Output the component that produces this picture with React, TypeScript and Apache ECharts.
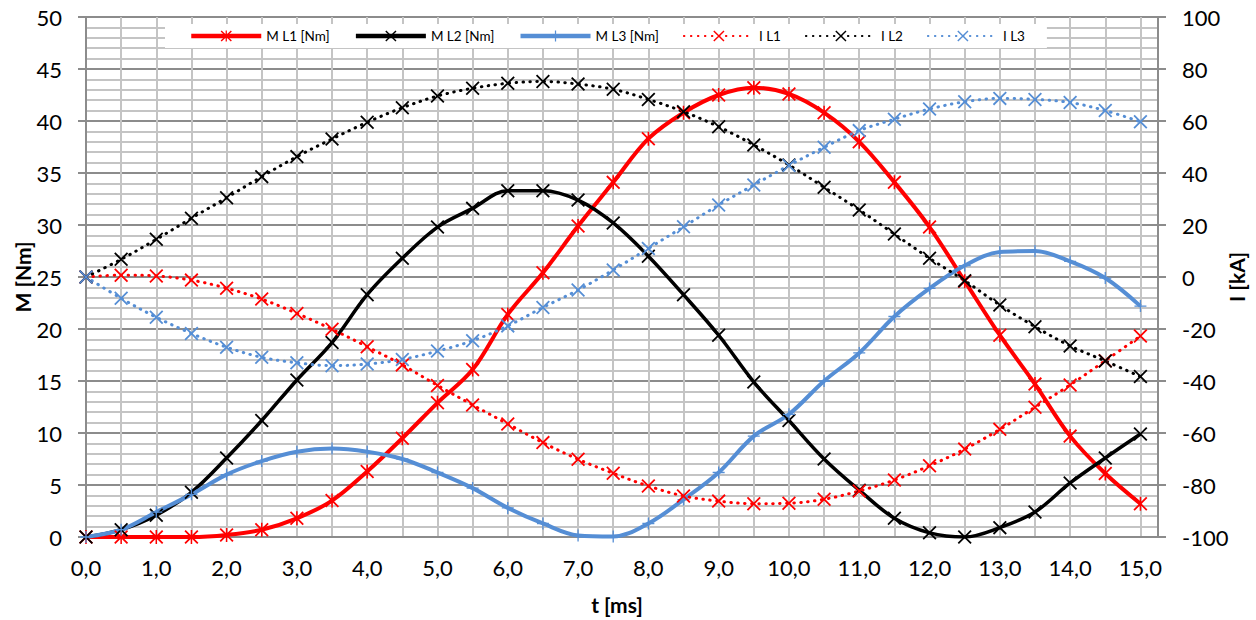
import React, { useEffect, useRef } from 'react';
import * as echarts from 'echarts';

// time axis [ms]
const tValues = [0, 0.5, 1, 1.5, 2, 2.5, 3, 3.5, 4, 4.5, 5, 5.5, 6, 6.5, 7, 7.5, 8, 8.5, 9, 9.5, 10, 10.5, 11, 11.5, 12, 12.5, 13, 13.5, 14, 14.5, 15];

// Torque [Nm] (left axis)
const mL1 = [0, 0, 0, 0, 0.2, 0.7, 1.8, 3.5, 6.3, 9.5, 12.9, 16.1, 21.4, 25.4, 29.9, 34.1, 38.3, 40.8, 42.5, 43.2, 42.6, 40.8, 38.0, 34.1, 29.8, 24.6, 19.4, 14.7, 9.7, 6.1, 3.2];
const mL2 = [0, 0.7, 2.1, 4.3, 7.6, 11.2, 15.1, 18.7, 23.3, 26.8, 29.8, 31.6, 33.3, 33.3, 32.4, 30.2, 27.0, 23.3, 19.4, 14.9, 11.2, 7.5, 4.5, 1.8, 0.4, 0, 0.9, 2.4, 5.2, 7.6, 9.9];
const mL3 = [0, 0.7, 2.4, 4.1, 6.0, 7.3, 8.2, 8.5, 8.2, 7.5, 6.2, 4.7, 2.8, 1.3, 0.15, 0.05, 1.3, 3.6, 6.2, 9.7, 11.8, 15.0, 17.7, 21.2, 23.9, 26.1, 27.4, 27.5, 26.5, 24.9, 22.2];

// Current [kA] (right axis)
const iL1 = [0, 0.7, 0.4, -1.2, -4.3, -8.5, -14, -20.1, -26.8, -33.8, -41.7, -49.2, -56.5, -63.7, -70.1, -75.5, -80.4, -84.2, -86.2, -87.2, -87.0, -85.5, -82.3, -78.1, -72.6, -66.2, -58.6, -50.1, -41.5, -32.2, -22.7];
const iL2 = [0, 6.8, 14.5, 22.6, 30.5, 38.6, 46.3, 53.1, 59.5, 65.1, 69.6, 72.6, 74.5, 75.2, 74.2, 72.2, 68.3, 63.6, 57.8, 50.8, 43.1, 34.5, 25.8, 16.5, 7.2, -1.4, -10.8, -19.1, -26.5, -32.3, -38.3];
const iL3 = [0, -8.2, -15.5, -21.7, -27, -30.9, -33, -34.1, -33.5, -31.7, -28.5, -24.5, -18.8, -11.7, -5, 2.7, 11, 19.3, 27.7, 35.4, 42.9, 49.9, 56.3, 60.7, 64.6, 67.4, 68.7, 68.3, 67.1, 64, 59.7];

const seriesNames = ['M L1 [Nm]', 'M L2 [Nm]', 'M L3 [Nm]', 'I L1', 'I L2', 'I L3'];

const RED = '#ff0000';
const BLACK = '#000000';
const BLUE = '#558ed5';
const FONT = 'Lato';

const SYM_X = 'path://M1,-1L21,19L19,21L-1,1ZM19,-1L21,1L1,21L-1,19Z';
const SYM_STAR = 'path://M1,-1L21,19L19,21L-1,1ZM19,-1L21,1L1,21L-1,19ZM8.8,-1L11.2,-1L11.2,21L8.8,21Z';
const SYM_PLUS = 'path://M8.8,-1L11.2,-1L11.2,21L8.8,21ZM-1,8.8L21,8.8L21,11.2L-1,11.2Z';

const pairs = (vals: number[]) => tValues.map((t, i) => [t, vals[i]]);

export default function App() {
  const ref = useRef<HTMLDivElement>(null);
  useEffect(() => {
    if (!ref.current) return;
    const chart = echarts.init(ref.current, undefined, { renderer: 'svg' });
    const solid = (name: string, vals: number[], color: string, symbol: string, size: number, width: number) => ({
      name,
      type: 'line',
      yAxisIndex: 0,
      data: pairs(vals),
      smooth: 0.35,
      symbol,
      symbolSize: size,
      showAllSymbol: true,
      lineStyle: { color, width },
      itemStyle: { color },
    });
    const dotted = (name: string, vals: number[], color: string) => ({
      name,
      type: 'line',
      yAxisIndex: 1,
      data: pairs(vals),
      smooth: 0.35,
      symbol: SYM_X,
      symbolSize: 14,
      showAllSymbol: true,
      lineStyle: { color, width: 3, type: [0.5, 6.5], cap: 'round' },
      itemStyle: { color },
    });
    const option: any = {
      animation: false,
      backgroundColor: '#ffffff',
      grid: { left: 86, right: 98, top: 17, bottom: 83, containLabel: false },
      legend: {
        data: [
          { name: seriesNames[0], lineStyle: { width: 4.5, color: RED } },
          { name: seriesNames[1], lineStyle: { width: 4.5, color: BLACK } },
          { name: seriesNames[2], lineStyle: { width: 4.5, color: BLUE } },
          { name: seriesNames[3] },
          { name: seriesNames[4] },
          { name: seriesNames[5] },
        ],
        top: 24,
        left: 165,
        padding: [5, 22, 5, 24],
        backgroundColor: '#ffffff',
        itemWidth: 70,
        itemHeight: 14,
        itemGap: 24,
        textStyle: { fontSize: 13.5, fontFamily: FONT, color: '#000' },
      },
      xAxis: {
        type: 'value',
        min: 0,
        max: 15.25,
        interval: 0.5,
        axisLine: { show: true, onZero: false, lineStyle: { color: '#8c8c8c', width: 2 } },
        axisTick: { show: false },
        axisLabel: {
          fontSize: 22,
          fontFamily: FONT,
          color: '#000',
          margin: 19,
          formatter: (v: number) =>
            Math.abs(v - Math.round(v)) < 1e-9 && v <= 15 ? v.toFixed(1).replace('.', ',') : '',
        },
        splitLine: { show: true, lineStyle: { color: '#c4c4c4', width: 2 } },
      },
      yAxis: [
        {
          type: 'value',
          min: 0,
          max: 50,
          interval: 5,
          position: 'left',
          axisLine: { show: true, lineStyle: { color: '#8c8c8c', width: 2 } },
          axisTick: { show: true, length: 8, lineStyle: { color: '#8c8c8c', width: 2 } },
          axisLabel: { fontSize: 22, fontFamily: FONT, color: '#000', margin: 24 },
          splitLine: { show: true, lineStyle: { color: '#8c8c8c', width: 2 } },
          minorTick: { show: false, splitNumber: 5 },
          minorSplitLine: { show: true, lineStyle: { color: '#c4c4c4', width: 2 } },
        },
        {
          type: 'value',
          min: -100,
          max: 100,
          interval: 20,
          position: 'right',
          axisLine: { show: true, lineStyle: { color: '#8c8c8c', width: 2 } },
          axisTick: { show: true, length: 8, lineStyle: { color: '#8c8c8c', width: 2 } },
          axisLabel: { fontSize: 22, fontFamily: FONT, color: '#000', margin: 24 },
          splitLine: { show: false },
        },
      ],
      graphic: [
        {
          type: 'text',
          x: 22,
          y: 277,
          rotation: Math.PI / 2,
          style: { text: 'M [Nm]', x: 0, y: 0, font: `bold 21px ${FONT}`, fill: '#000', textAlign: 'center', textVerticalAlign: 'middle' },
        },
        {
          type: 'text',
          x: 1236,
          y: 277,
          rotation: Math.PI / 2,
          style: { text: 'I [kA]', x: 0, y: 0, font: `bold 21px ${FONT}`, fill: '#000', textAlign: 'center', textVerticalAlign: 'middle' },
        },
        {
          type: 'text',
          x: 617,
          y: 604,
          style: { text: 't [ms]', x: 0, y: 0, font: `bold 21px ${FONT}`, fill: '#000', textAlign: 'center', textVerticalAlign: 'middle' },
        },
      ],
      series: [
        solid(seriesNames[0], mL1, RED, SYM_STAR, 14, 4),
        solid(seriesNames[1], mL2, BLACK, SYM_X, 14, 3.5),
        solid(seriesNames[2], mL3, BLUE, SYM_PLUS, 12, 4),
        dotted(seriesNames[3], iL1, RED),
        dotted(seriesNames[4], iL2, BLACK),
        dotted(seriesNames[5], iL3, BLUE),
      ],
    };
    chart.setOption(option);
    return () => chart.dispose();
  }, []);
  return <div ref={ref} style={{ position: 'fixed', left: 0, top: 0, width: 1256, height: 620 }} />;
}
